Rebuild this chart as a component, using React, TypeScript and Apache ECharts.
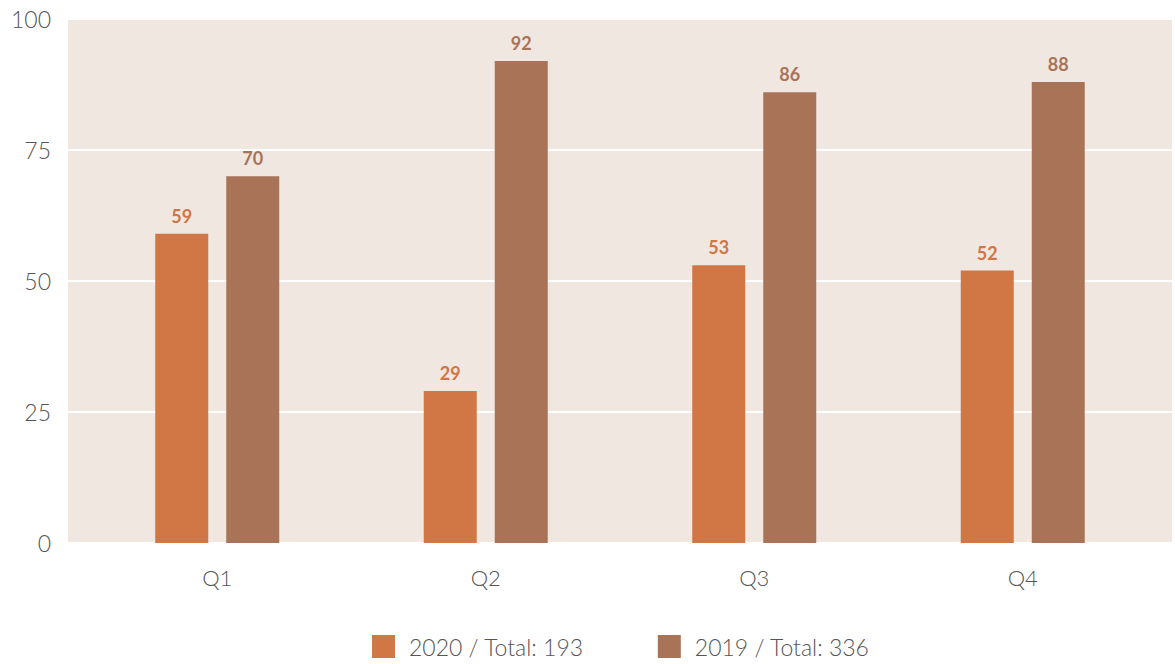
import React, { useEffect, useRef } from "react";
import * as echarts from "echarts";

const categories = ["Q1", "Q2", "Q3", "Q4"];
const values2020 = [59, 29, 53, 52];
const values2019 = [70, 92, 86, 88];
const seriesNames = ["2020 / Total: 193", "2019 / Total: 336"];
const yTicks = [0, 25, 50, 75, 100];

const C2020 = "#D17645";
const C2019 = "#A97358";

export default function App() {
  const ref = useRef<HTMLDivElement>(null);
  useEffect(() => {
    if (!ref.current) return;
    const chart = echarts.init(ref.current, null, { renderer: "svg" });
    const font = "Lato";
    chart.setOption({
      animation: false,
      textStyle: { fontFamily: font },
      grid: [
        { left: 68, right: 3, top: 19, bottom: 121, show: true, backgroundColor: "#F0E7E1", borderWidth: 0 },
        { left: 83, right: 18, top: 19, bottom: 121 },
      ],
      xAxis: [
        { gridIndex: 0, type: "category", data: categories, show: false },
        {
          gridIndex: 1,
          type: "category",
          data: categories,
          axisLine: { show: false },
          axisTick: { show: false },
          axisLabel: { color: "#555", fontSize: 22, fontWeight: 300, margin: 23, fontFamily: font },
        },
      ],
      yAxis: [
        {
          gridIndex: 0,
          type: "value",
          min: yTicks[0],
          max: yTicks[yTicks.length - 1],
          interval: 25,
          axisLine: { show: false },
          axisTick: { show: false },
          axisLabel: { color: "#555", fontSize: 23, fontWeight: 300, margin: 17, fontFamily: font },
          splitLine: { lineStyle: { color: "#FFFFFF", width: 2 } },
        },
        { gridIndex: 1, type: "value", min: 0, max: 100, show: false, splitLine: { show: false } },
      ],
      legend: {
        top: 635,
        left: 372,
        padding: 0,
        itemWidth: 23,
        itemHeight: 23,
        itemGap: 74,
        icon: "rect",
        textStyle: { color: "#555", fontSize: 23, fontWeight: 300, fontFamily: font, padding: [0, 0, 0, 9] },
        data: seriesNames,
      },
      series: [
        {
          name: seriesNames[0],
          type: "bar",
          xAxisIndex: 1,
          yAxisIndex: 1,
          data: values2020,
          barWidth: 53,
          barGap: "34%",
          itemStyle: { color: C2020 },
          label: { show: true, position: "top", distance: 9, color: C2020, fontSize: 18, fontWeight: "bold", fontFamily: font },
        },
        {
          name: seriesNames[1],
          type: "bar",
          xAxisIndex: 1,
          yAxisIndex: 1,
          data: values2019,
          barWidth: 53,
          barGap: "34%",
          itemStyle: { color: C2019 },
          label: { show: true, position: "top", distance: 9, color: C2019, fontSize: 18, fontWeight: "bold", fontFamily: font },
        },
      ],
    });
    return () => chart.dispose();
  }, []);
  return <div ref={ref} style={{ width: 1175, height: 664, position: "absolute", left: 0, top: 0 }} />;
}
